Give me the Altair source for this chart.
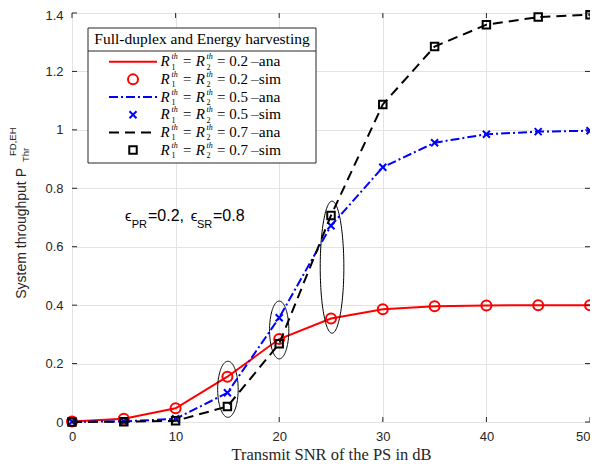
import altair as alt
import numpy as np
import pandas as pd

# ---------------- data ----------------
snr = [0, 5, 10, 15, 20, 25, 30, 35, 40, 45, 50]
thr_02 = [0.002, 0.011, 0.047, 0.155, 0.284, 0.354, 0.386, 0.396, 0.399, 0.400, 0.400]
thr_05 = [0.001, 0.002, 0.011, 0.100, 0.357, 0.672, 0.872, 0.956, 0.985, 0.994, 0.997]
thr_07 = [0.000, 0.001, 0.004, 0.053, 0.268, 0.707, 1.087, 1.285, 1.360, 1.386, 1.394]

x_ticks = [0, 10, 20, 30, 40, 50]
y_ticks = [0, 0.2, 0.4, 0.6, 0.8, 1.0, 1.2, 1.4]

# ellipse annotations (data units)
ell_cx = [15.05, 20.0, 25.1]
ell_cy = [0.112, 0.315, 0.530]
ell_rx = [0.99, 0.93, 1.14]
ell_ry = [0.096, 0.099, 0.226]

legend_title = "Full-duplex and Energy harvesting"
legend_thr = ["0.2", "0.2", "0.5", "0.5", "0.7", "0.7"]
legend_kind = ["ana", "sim", "ana", "sim", "ana", "sim"]

W, H = 518, 409
DARK = "#262626"
SANS = "Liberation Sans"
SERIF = "Liberation Serif"

xscale = alt.Scale(domain=[0, 50], nice=False, zero=False)
yscale = alt.Scale(domain=[0, 1.4], nice=False, zero=False)
xaxis = alt.Axis(values=x_ticks, format="d", title="Transmit SNR of the PS in dB",
                 titleFont=SERIF, titleFontSize=16.5, titleFontWeight="normal",
                 titleColor=DARK, titlePadding=3, labelPadding=8,
                 labelAlign={"expr": "datum.value == 50 ? 'right' : 'center'"})
yaxis = alt.Axis(values=y_ticks, format="~g", title=None, labelPadding=9,
                 labelOffset={"expr": "datum.value == 1.4 ? 2 : 0"})


def X(f):
    return alt.X(f, type="quantitative", scale=xscale, axis=xaxis)


def Y(f):
    return alt.Y(f, type="quantitative", scale=yscale, axis=yaxis)


one = pd.DataFrame({"_": [0]})


def txt(s, x, y, **kw):
    return alt.Chart(one).mark_text(text=s, **kw).encode(x=alt.value(x), y=alt.value(y))


layers = []

# series
series = [
    (thr_02, "#ff0000", None, "circle", 100),
    (thr_05, "#0000ff", [9, 3, 2, 3], "M-1,-1L1,1M-1,1L1,-1", 49),
    (thr_07, "#000000", [10, 6], "square", 56),
]
for vals, col, dash, shape, size in series:
    df = pd.DataFrame({"snr": snr, "thr": vals})
    lkw = dict(color=col, strokeWidth=2)
    if dash:
        lkw["strokeDash"] = dash
    layers.append(alt.Chart(df).mark_line(**lkw).encode(x=X("snr"), y=Y("thr")))
    layers.append(alt.Chart(df).mark_point(shape=shape, size=size, filled=False, color=col,
                                           strokeWidth=2, opacity=1).encode(x=X("snr"), y=Y("thr")))

# ellipses
t = np.linspace(0, 2 * np.pi, 121)
for i in range(len(ell_cx)):
    edf = pd.DataFrame({"ex": ell_cx[i] + ell_rx[i] * np.cos(t),
                        "ey": ell_cy[i] + ell_ry[i] * np.sin(t),
                        "o": np.arange(len(t))})
    layers.append(alt.Chart(edf).mark_line(color="black", strokeWidth=1).encode(
        x=X("ex"), y=Y("ey"), order="o:Q"))

# inward ticks (MATLAB style)
xt = pd.DataFrame({"t": x_ticks})
yt = pd.DataFrame({"t": y_ticks})
layers.append(alt.Chart(xt).mark_rule(color=DARK).encode(x=X("t"), y=alt.value(H), y2=alt.value(H - 5)))
layers.append(alt.Chart(xt).mark_rule(color=DARK).encode(x=X("t"), y=alt.value(0), y2=alt.value(5)))
layers.append(alt.Chart(yt).mark_rule(color=DARK).encode(y=Y("t"), x=alt.value(0), x2=alt.value(5)))
layers.append(alt.Chart(yt).mark_rule(color=DARK).encode(y=Y("t"), x=alt.value(W), x2=alt.value(W - 5)))

# legend box
layers.append(alt.Chart(one).mark_rect(fill="white", stroke=DARK, strokeWidth=1).encode(
    x=alt.value(16), x2=alt.value(244), y=alt.value(15), y2=alt.value(150)))
layers.append(alt.Chart(one).mark_rule(color=DARK, strokeWidth=1).encode(
    x=alt.value(16), x2=alt.value(244), y=alt.value(38)))
layers.append(txt(legend_title, 130, 31, font=SERIF, fontSize=15.5, align="center",
                  baseline="alphabetic", color="black"))

for i in range(6):
    cy = 48.7 + 17.67 * i
    col, dash, shape, size = series[i // 2][1], series[i // 2][2], series[i // 2][3], series[i // 2][4]
    if legend_kind[i] == "ana":
        rkw = dict(color=col, strokeWidth=2)
        if dash:
            rkw["strokeDash"] = dash
        layers.append(alt.Chart(one).mark_rule(**rkw).encode(
            x=alt.value(37), x2=alt.value(85), y=alt.value(cy)))
    else:
        layers.append(alt.Chart(one).mark_point(shape=shape, size=size, filled=False, color=col,
                                                strokeWidth=2, opacity=1).encode(
            x=alt.value(61), y=alt.value(cy)))
    base = dict(font=SERIF, color="black", align="left", baseline="alphabetic")
    layers.append(txt("R", 88.5, cy + 4.5, fontSize=15, fontStyle="italic", **base))
    layers.append(txt("1", 99.5, cy + 8, fontSize=8, **base))
    layers.append(txt("th", 99.5, cy - 2.5, fontSize=8, fontStyle="italic", **base))
    layers.append(txt("= R", 110, cy + 4.5, fontSize=15, fontStyle="italic", **base))
    layers.append(txt("2", 134.5, cy + 8, fontSize=8, **base))
    layers.append(txt("th", 134.5, cy - 2.5, fontSize=8, fontStyle="italic", **base))
    layers.append(txt("= " + legend_thr[i], 145, cy + 4.5, fontSize=15, **base))
    layers.append(txt("\u2013" + legend_kind[i], 179, cy + 4.5, fontSize=15.5, **base))

# annotation epsilon_PR=0.2, epsilon_SR=0.8
ann = dict(font=SANS, color="black", align="left", baseline="alphabetic")
layers.append(txt("\u03f5", 53, 208, fontSize=15, **ann))
layers.append(txt("PR", 59.7, 215, fontSize=11, **ann))
layers.append(txt("=0.2,", 76, 208, fontSize=16, **ann))
layers.append(txt("\u03f5", 118.7, 208, fontSize=15, **ann))
layers.append(txt("SR", 125, 215, fontSize=11, **ann))
layers.append(txt("=0.8", 141, 208, fontSize=16, **ann))

# y-axis title: System throughput P^{FD,EH}_{Thr}
yt_kw = dict(font=SANS, color=DARK, angle=270, baseline="alphabetic")
layers.append(txt("System throughput P", -46, 155, fontSize=14, align="right", **yt_kw))
layers.append(txt("FD,EH", -56, 143, fontSize=9.5, align="left", **yt_kw))
layers.append(txt("Thr", -43, 149, fontSize=9.5, align="left", **yt_kw))

chart = alt.layer(*layers).properties(
    width=W, height=H,
    autosize="none",
    padding={"left": 64, "top": 5, "right": 0, "bottom": 42},
).configure_view(
    stroke=DARK, strokeWidth=1
).configure_axis(
    labelFont=SANS, labelFontSize=13, labelColor=DARK, gridColor="#e3e3e3",
    domain=False, ticks=False,
)

chart.save("out.html", embed_options={"renderer": "svg", "actions": False})
